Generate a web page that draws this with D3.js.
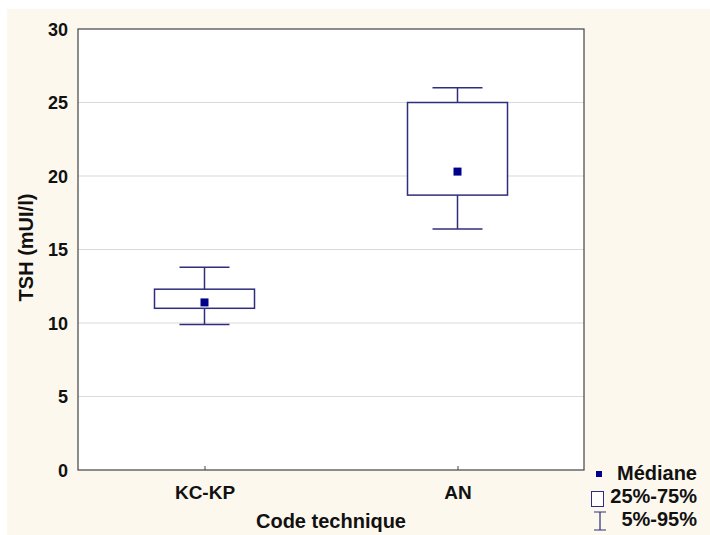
<!DOCTYPE html>
<html>
<head>
  <meta charset="utf-8">
  <title>TSH par code technique</title>
  <style>
    body { margin: 0; background: #fff; }
    svg { display: block; }
    text { font-family: "Liberation Sans", Arial, sans-serif; font-weight: bold; fill: #111; }
  </style>
  <script src="https://cdn.jsdelivr.net/npm/d3@7"></script>
</head>
<body>
<div id="chart"></div>
<script>

var categories = ["KC-KP", "AN"];
var p5 = [9.9, 16.4];
var q25 = [11.0, 18.7];
var medians = [11.4, 20.3];
var q75 = [12.3, 25.0];
var p95 = [13.8, 26.0];
var yTicks = [0, 5, 10, 15, 20, 25, 30];
var legendLabels = ["Médiane", "25%-75%", "5%-95%"];

var width = 710, height = 535;
var plotL = 78, plotR = 584, plotT = 29, plotB = 470;
var boxColor = "#2e2e7c", medColor = "#00008b";

var svg = d3.select("#chart").append("svg")
  .attr("width", width)
  .attr("height", height);

// cream background
svg.append("rect")
  .attr("x", 7).attr("y", 9)
  .attr("width", width - 7).attr("height", height - 9)
  .attr("fill", "#fdf8ee");

var x = d3.scalePoint().domain(categories).range([plotL, plotR]).padding(0.5);
var y = d3.scaleLinear().domain([0, 30]).range([plotB, plotT]);

svg.append("rect")
  .attr("x", plotL).attr("y", plotT)
  .attr("width", plotR - plotL).attr("height", plotB - plotT)
  .attr("fill", "#fff");

// grid
svg.append("g").selectAll("line")
  .data(yTicks.filter(function(d) { return d > 0 && d < 30; }))
  .enter().append("line")
  .attr("x1", plotL).attr("x2", plotR)
  .attr("y1", function(d) { return y(d); })
  .attr("y2", function(d) { return y(d); })
  .attr("stroke", "#d9d9d9").attr("stroke-width", 1);

// frame
svg.append("rect")
  .attr("x", plotL).attr("y", plotT)
  .attr("width", plotR - plotL).attr("height", plotB - plotT)
  .attr("fill", "none").attr("stroke", "#444").attr("stroke-width", 1.2);

// y axis
var yAxis = svg.append("g")
  .attr("transform", "translate(" + plotL + ",0)")
  .call(d3.axisLeft(y).tickValues(yTicks).tickSize(0).tickPadding(10));
yAxis.select(".domain").remove();
yAxis.selectAll("text")
  .style("font-size", "18px")
  .attr("dy", "0.36em");

// x axis
var xAxis = svg.append("g")
  .attr("transform", "translate(0," + plotB + ")")
  .call(d3.axisBottom(x).tickSize(-4).tickPadding(16));
xAxis.select(".domain").remove();
xAxis.selectAll("line").attr("stroke", "#444");
xAxis.selectAll("text")
  .style("font-size", "19px");

// axis titles
svg.append("text")
  .attr("x", (plotL + plotR) / 2).attr("y", 528)
  .attr("text-anchor", "middle")
  .style("font-size", "20px")
  .text("Code technique");

svg.append("text")
  .attr("transform", "translate(33," + ((plotT + plotB) / 2 - 2) + ") rotate(-90)")
  .attr("text-anchor", "middle")
  .style("font-size", "20px")
  .text("TSH (mUI/l)");

// boxes
var boxW = 100, capW = 50, medS = 8;
var g = svg.append("g").selectAll("g")
  .data(categories)
  .enter().append("g");

g.append("line")
  .attr("x1", function(d) { return x(d); })
  .attr("x2", function(d) { return x(d); })
  .attr("y1", function(d, i) { return y(p95[i]); })
  .attr("y2", function(d, i) { return y(q75[i]); })
  .attr("stroke", boxColor).attr("stroke-width", 1.5);
g.append("line")
  .attr("x1", function(d) { return x(d); })
  .attr("x2", function(d) { return x(d); })
  .attr("y1", function(d, i) { return y(q25[i]); })
  .attr("y2", function(d, i) { return y(p5[i]); })
  .attr("stroke", boxColor).attr("stroke-width", 1.5);
g.append("line")
  .attr("x1", function(d) { return x(d) - capW / 2; })
  .attr("x2", function(d) { return x(d) + capW / 2; })
  .attr("y1", function(d, i) { return y(p95[i]); })
  .attr("y2", function(d, i) { return y(p95[i]); })
  .attr("stroke", boxColor).attr("stroke-width", 1.5);
g.append("line")
  .attr("x1", function(d) { return x(d) - capW / 2; })
  .attr("x2", function(d) { return x(d) + capW / 2; })
  .attr("y1", function(d, i) { return y(p5[i]); })
  .attr("y2", function(d, i) { return y(p5[i]); })
  .attr("stroke", boxColor).attr("stroke-width", 1.5);
g.append("rect")
  .attr("x", function(d) { return x(d) - boxW / 2; })
  .attr("y", function(d, i) { return y(q75[i]); })
  .attr("width", boxW)
  .attr("height", function(d, i) { return y(q25[i]) - y(q75[i]); })
  .attr("fill", "#fff")
  .attr("stroke", boxColor).attr("stroke-width", 1.5);
g.append("rect")
  .attr("x", function(d) { return x(d) - medS / 2; })
  .attr("y", function(d, i) { return y(medians[i]) - medS / 2; })
  .attr("width", medS).attr("height", medS)
  .attr("fill", medColor);

// legend
var lx = 697;
var leg = svg.append("g");
leg.append("rect")
  .attr("x", 596).attr("y", 471).attr("width", 6).attr("height", 6)
  .attr("fill", medColor);
leg.append("rect")
  .attr("x", 591.5).attr("y", 491.5).attr("width", 12).attr("height", 15)
  .attr("fill", "#fff").attr("stroke", boxColor).attr("stroke-width", 1);
leg.append("path")
  .attr("d", "M594,512H606M600,512V530M594,530H606")
  .attr("fill", "none").attr("stroke", boxColor).attr("stroke-width", 1.2);

leg.selectAll("text.lab")
  .data(legendLabels)
  .enter().append("text")
  .attr("class", "lab")
  .attr("x", lx)
  .attr("y", function(d, i) { return 480 + i * 23; })
  .attr("text-anchor", "end")
  .style("font-size", "20px")
  .text(function(d) { return d; });

</script>
</body>
</html>
